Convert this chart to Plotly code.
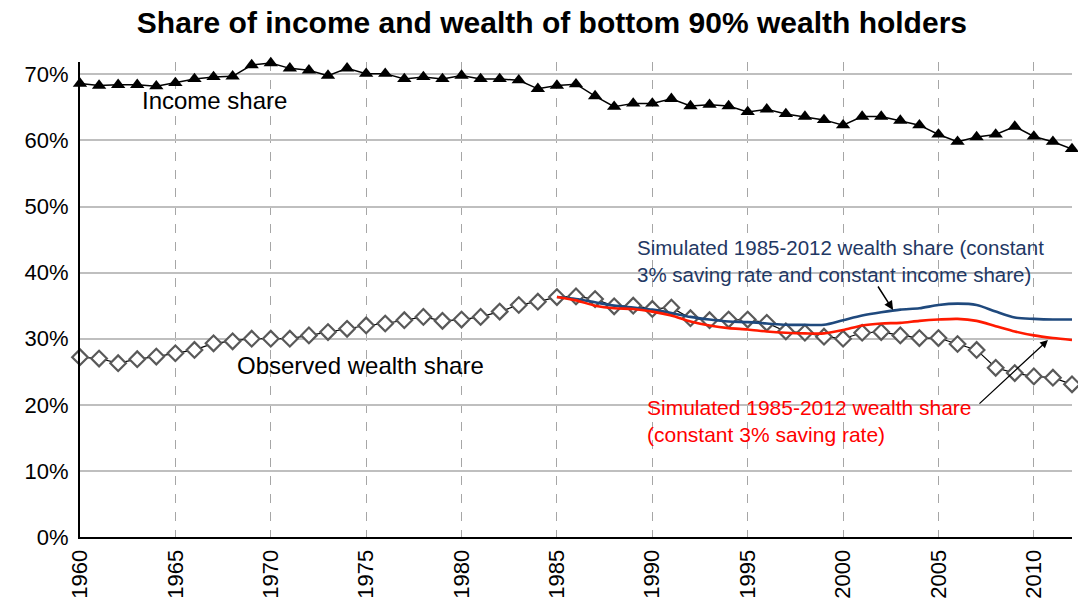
import plotly.graph_objects as go

years = list(range(1960, 2013))
income_share = [68.6, 68.3, 68.4, 68.4, 68.2, 68.7, 69.3, 69.6, 69.7, 71.4,
                71.7, 70.9, 70.6, 69.8, 70.9, 70.1, 70.1, 69.3, 69.6, 69.3,
                69.8, 69.3, 69.3, 69.1, 67.8, 68.3, 68.5, 66.7, 65.1, 65.6,
                65.6, 66.3, 65.2, 65.4, 65.2, 64.3, 64.7, 64.0, 63.6, 63.1,
                62.3, 63.6, 63.6, 63.0, 62.3, 60.9, 59.8, 60.5, 60.9, 62.1,
                60.6, 59.8, 58.7]
wealth_share = [27.2, 27.0, 26.3, 26.9, 27.3, 27.8, 28.3, 29.3, 29.6, 30.0,
                30.0, 30.0, 30.5, 31.0, 31.5, 32.0, 32.3, 32.8, 33.3, 32.7,
                32.9, 33.3, 34.1, 35.1, 35.6, 36.3, 36.4, 36.0, 34.9, 35.0,
                34.5, 34.7, 33.1, 32.8, 32.9, 32.9, 32.4, 31.1, 30.9, 30.3,
                30.0, 30.9, 31.0, 30.5, 30.1, 30.1, 29.2, 28.3, 25.6, 24.8,
                24.3, 24.1, 23.1]
sim_years = list(range(1985, 2013))
sim_const_income = [36.3, 36.0, 35.5, 35.0, 34.7, 34.4, 33.9, 33.3, 32.9, 32.6,
                    32.5, 32.3, 32.1, 32.1, 32.1, 32.8, 33.5, 34.0, 34.4, 34.6,
                    35.1, 35.3, 35.1, 34.1, 33.2, 33.0, 32.9, 32.9]
sim_saving = [36.3, 35.8, 35.0, 34.6, 34.5, 34.1, 33.5, 32.6, 32.0, 31.6,
              31.4, 31.1, 30.9, 30.8, 30.8, 31.3, 32.0, 32.3, 32.4, 32.7,
              32.9, 33.0, 32.7, 31.9, 31.1, 30.5, 30.1, 29.8]
x_tick_years = list(range(1960, 2011, 5))
y_ticks = [0, 10, 20, 30, 40, 50, 60, 70]

FONT = "Arial, Liberation Sans, sans-serif"

fig = go.Figure()
fig.add_trace(go.Scatter(
    x=years, y=income_share, mode="lines+markers", cliponaxis=False,
    line=dict(color="black", width=1.5),
    marker=dict(symbol="triangle-up", size=12.5, color="black"),
    showlegend=False))
fig.add_trace(go.Scatter(
    x=years, y=wealth_share, mode="lines+markers", cliponaxis=False,
    line=dict(color="black", width=1.2),
    marker=dict(symbol="diamond", size=12, color="white",
                line=dict(color="#595959", width=2.2)),
    showlegend=False))
fig.add_trace(go.Scatter(
    x=sim_years, y=sim_const_income, mode="lines",
    line=dict(color="#1F497D", width=2.6, shape="spline", smoothing=0.8),
    showlegend=False))
fig.add_trace(go.Scatter(
    x=sim_years, y=sim_saving, mode="lines",
    line=dict(color="#FF1A00", width=2.6, shape="spline", smoothing=0.8),
    showlegend=False))

annotations = [
    dict(x=1963.15, y=66.1, text="Income share", showarrow=False,
         xanchor="left", yanchor="middle", font=dict(size=24, color="black", family=FONT)),
    dict(x=1968.1, y=26.0, text="Observed wealth share", showarrow=False,
         xanchor="left", yanchor="middle", font=dict(size=24, color="black", family=FONT)),
    dict(x=1989.1, y=41.8, text="Simulated 1985-2012 wealth share (constant<br>3% saving rate and constant income share)",
         showarrow=False, xanchor="left", yanchor="middle", align="left",
         font=dict(size=20.5, color="#1F3864", family=FONT)),
    dict(x=1989.62, y=17.6, text="Simulated 1985-2012 wealth share<br>(constant 3% saving rate)",
         showarrow=False, xanchor="left", yanchor="middle", align="left",
         font=dict(size=21, color="#FF0000", family=FONT)),
    dict(x=2002.62, y=34.34, text="", showarrow=True, ax=-16, ay=-25,
         arrowhead=2, arrowsize=1.2, arrowwidth=1.5, arrowcolor="black"),
    dict(x=2010.74, y=29.8, text="", showarrow=True, ax=-70, ay=65,
         arrowhead=2, arrowsize=1.2, arrowwidth=1.3, arrowcolor="black"),
]

fig.update_layout(
    width=1078, height=603,
    margin=dict(l=80, r=6, t=62, b=66, autoexpand=False),
    paper_bgcolor="white", plot_bgcolor="white",
    title=dict(text="<b>Share of income and wealth of bottom 90% wealth holders</b>",
               x=0.512, xanchor="center", y=0.963, yanchor="middle",
               font=dict(size=30, color="black", family=FONT)),
    annotations=annotations,
    xaxis=dict(range=[1960, 2012], tickmode="array", tickvals=x_tick_years,
               ticktext=[str(v) for v in x_tick_years], tickangle=-90,
               showgrid=True, gridcolor="#A6A6A6", griddash="dash", gridwidth=1,
               showline=True, linecolor="black", linewidth=2, zeroline=False,
               ticks="", ticklabelstandoff=2, automargin=False,
               tickfont=dict(size=22, color="black", family=FONT)),
    yaxis=dict(range=[0, 71.86], tickmode="array", tickvals=y_ticks,
               ticktext=[f"{v}%" for v in y_ticks],
               showgrid=True, gridcolor="#BFBFBF", gridwidth=1.5,
               showline=True, linecolor="black", linewidth=2, zeroline=False,
               ticks="", ticklabelstandoff=5, automargin=False,
               tickfont=dict(size=22, color="black", family=FONT)),
)

fig.write_html("out.html", config={"displayModeBar": False},
               post_script="document.body.style.margin='0';document.body.style.padding='0';")
